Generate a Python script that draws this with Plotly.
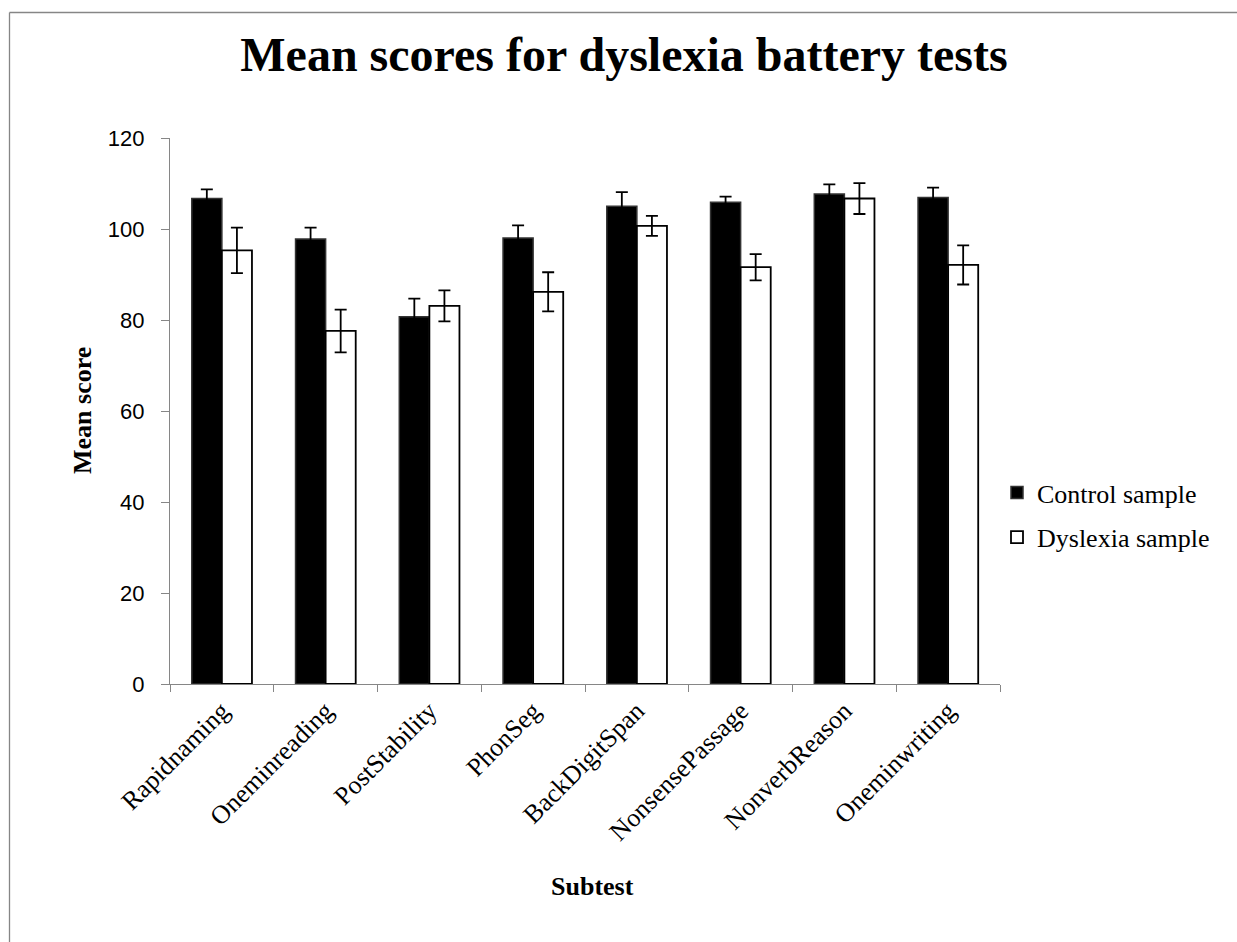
import plotly.graph_objects as go

categories = ["Rapidnaming", "Oneminreading", "PostStability", "PhonSeg",
              "BackDigitSpan", "NonsensePassage", "NonverbReason", "Oneminwriting"]
control_mean = [106.7, 97.8, 80.7, 98.0, 105.0, 105.9, 107.7, 106.9]
control_err = [2.0, 2.5, 4.0, 2.8, 3.1, 1.2, 2.1, 2.2]
dyslexia_mean = [95.3, 77.6, 83.1, 86.2, 100.7, 91.6, 106.7, 92.1]
dyslexia_err = [5.0, 4.7, 3.4, 4.3, 2.2, 2.9, 3.4, 4.3]
y_ticks = [0, 20, 40, 60, 80, 100, 120]

L, R, T, B = 170, 1000, 138, 684
W, H = 1237, 942

fig = go.Figure()
fig.add_trace(go.Bar(
    name="Control sample", x=categories, y=control_mean, legendgroup="c",
    marker=dict(color="black", line=dict(color="#333333", width=1.5)),
    error_y=dict(type="data", array=control_err, color="black", thickness=1.8, width=6),
))
fig.add_trace(go.Bar(
    name="Dyslexia sample", x=categories, y=dyslexia_mean, legendgroup="d",
    marker=dict(color="white", line=dict(color="black", width=1.8)),
    error_y=dict(type="data", array=dyslexia_err, color="black", thickness=1.8, width=6),
))

pw, ph = R - L, B - T

fig.update_layout(
    width=W, height=H,
    margin=dict(l=L, r=W - R, t=T, b=H - B, autoexpand=False),
    paper_bgcolor="white", plot_bgcolor="white",
    barmode="group", bargap=0.42, bargroupgap=0,
    title=dict(text="<b>Mean scores for dyslexia battery tests</b>",
               x=624 / W, xanchor="center", y=1 - 54 / H, yanchor="middle",
               yref="container", xref="container",
               font=dict(family="Liberation Serif", size=48, color="black")),
    legend=dict(x=(997 - L) / pw, y=(B - 515) / ph, xanchor="left", yanchor="middle",
                font=dict(family="Liberation Serif", size=26, color="black"),
                bgcolor="rgba(0,0,0,0)", tracegroupgap=8, itemwidth=30,
                traceorder="grouped"),
    showlegend=True,
    xaxis=dict(showline=True, linecolor="#868686", linewidth=1.3,
               ticks="outside", tickson="boundaries", ticklen=7, tickcolor="#868686",
               tickangle=-45, tickfont=dict(family="Liberation Serif", size=26, color="black"),
               showgrid=False),
    yaxis=dict(range=[0, 120], tickvals=y_ticks, showline=True, linecolor="#868686",
               linewidth=1.3, ticks="outside", ticklen=8, tickcolor="#868686",
               ticklabelstandoff=12,
               tickfont=dict(family="Liberation Sans", size=22, color="black"),
               showgrid=False, zeroline=False),
    annotations=[
        dict(text="<b>Mean score</b>", x=(82 - L) / pw, y=(B - 411) / ph,
             xref="paper", yref="paper", textangle=-90, showarrow=False,
             xanchor="center", yanchor="middle",
             font=dict(family="Liberation Serif", size=26, color="black")),
        dict(text="<b>Subtest</b>", x=(592 - L) / pw, y=(B - 886) / ph,
             xref="paper", yref="paper", showarrow=False,
             xanchor="center", yanchor="middle",
             font=dict(family="Liberation Serif", size=26, color="black")),
    ],
    shapes=[
        dict(type="line", xref="paper", yref="paper",
             x0=(9.5 - L) / pw, x1=(1300 - L) / pw, y0=(B - 12.5) / ph, y1=(B - 12.5) / ph,
             line=dict(color="#868686", width=1.3)),
        dict(type="line", xref="paper", yref="paper",
             x0=(9.5 - L) / pw, x1=(9.5 - L) / pw, y0=(B - 12.5) / ph, y1=(B - 1000) / ph,
             line=dict(color="#868686", width=1.3)),
    ],
)

fig.write_html("out.html", config={"displayModeBar": False},
               post_script="document.body.style.margin='0px';")
